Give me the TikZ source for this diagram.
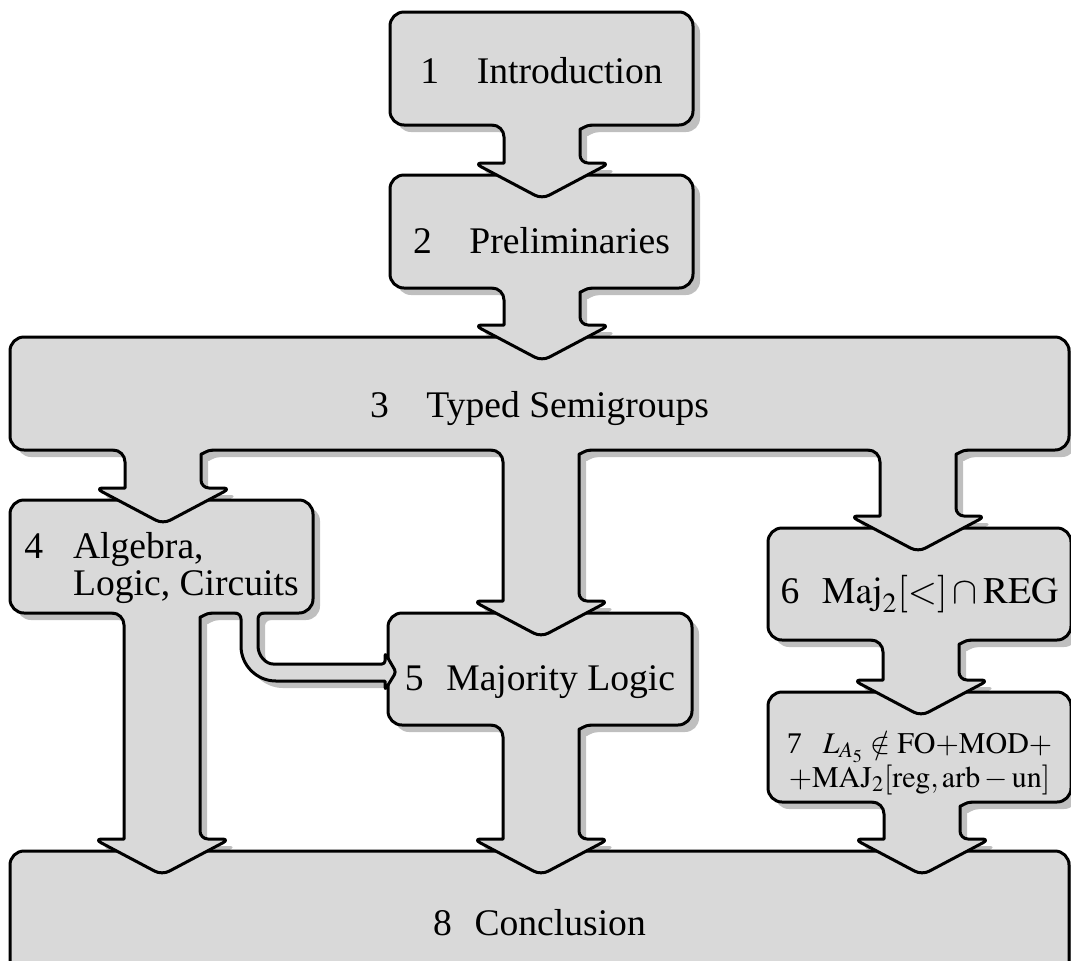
\documentclass[tikz,border=0pt]{standalone}
\usepackage{mathptmx}
\usepackage{fontspec}
\setmainfont{Liberation Serif}
\usetikzlibrary{calc,positioning}
\pgfdeclarelayer{shadow}
\pgfsetlayers{shadow,main}
\definecolor{boxgray}{HTML}{D9D9D9}
\definecolor{shadowgray}{HTML}{BFBFBF}
\tikzset{
  sectionbox/.style={
    draw,
    line width=1.5pt,
    fill=boxgray,
    rounded corners=7pt,
    minimum width=151.5pt,
    minimum height=56.5pt,
    inner sep=0pt,
    outer sep=0pt,
    text depth=0pt
  },
  wide sectionbox/.style={
    sectionbox,
    minimum width=529.5pt
  },
  fat arrow/.style={
    draw,
    fill=boxgray,
    line width=1.5pt,
    line join=round
  },
  box shadow/.style={
    fill=shadowgray,
    rounded corners=7pt
  }
}
\newcommand\fatarrowpath{($(s)+(-50,0)$) arc[start angle=270,end angle=360,radius=12]
  -- ($(t)+(-38,-12)$) [rounded corners=4pt]
  -- ($(t)+(-68,-12)$) -- ($(t)+(0,24)$) -- ($(t)+(68,-12)$)
  -- ($(t)+(38,-12)$) -- ($(s)+(38,12)$) [sharp corners]
  arc[start angle=180,end angle=270,radius=12]}
\newcommand\fatarrow[3]{%
  \coordinate (s) at (#3,0 |- #1.south);
  \coordinate (t) at (#3,0 |- #2.north);
  \begin{pgfonlayer}{shadow}
    \begin{scope}[transform canvas={xshift=3.5pt,yshift=-3.5pt}]
      \fill[shadowgray] \fatarrowpath;
    \end{scope}
  \end{pgfonlayer}
  \fill[boxgray] ($(s)+(-50,-2)$) rectangle ($(s)+(50,0)$);
  \path[fat arrow] \fatarrowpath;
}
\newcommand\bentarrowpath{($(c4)+(-14,0)$) arc[start angle=270,end angle=360,radius=6]
  -- ($(c4 |- c5)+(-8,-26)$) arc[start angle=180,end angle=90,radius=35]
  -- ($(c5)+(-3,9)$) [rounded corners=1.5pt]
  -- ($(c5)+(-3,18)$) -- ($(c5)+(8,0)$) -- ($(c5)+(-3,-19)$)
  -- ($(c5)+(-3,-8)$) -- ($(c4 |- c5)+(27,-8)$) [sharp corners]
  arc[start angle=90,end angle=180,radius=18]
  -- ($(c4)+(9,6)$) arc[start angle=180,end angle=270,radius=6]}

\begin{document}
\begin{tikzpicture}[x=0.5pt,y=-0.5pt,font=\fontsize{18.8}{18.5}\selectfont]
  \useasboundingbox (0,0) rectangle (1071,960);
  \node[sectionbox,text height=14.5pt]      (sec_1) at (541.5,68.5)  {1\quad Introduction};
  \node[sectionbox,text height=21.5pt]      (sec_2) at (541.5,231.5) {2\quad Preliminaries};
  \node[wide sectionbox,text height=23.5pt] (sec_3) at (539.5,393.5) {3\quad Typed Semigroups};
  \node[sectionbox,text height=15pt,text depth=13.5pt]
                         (sec_4) at (161.5,556.5)
    {4\hspace{15pt}\begin{tabular}[t]{@{}l@{}}Algebra,\\Logic, Circuits\end{tabular}};
  \node[sectionbox,minimum width=152pt,minimum height=56pt,text height=21pt]
                         (sec_5) at (540,669)     {5\hspace{0.6em}Majority Logic};
  \node[sectionbox,minimum height=56pt,text height=19pt]
                         (sec_6) at (919.5,584)   {6\hspace{0.6em}$\mathrm{Maj}_2[<]\cap\mathrm{REG}$};
  \node[sectionbox,minimum height=55pt,text height=15pt,text depth=9pt,
        font=\fontsize{15}{17}\selectfont]
                         (sec_7) at (919.5,747)
    {\begin{tabular}[t]{@{}c@{}}7\hspace{0.7em}$L_{A_5}\notin\mathrm{FO}{+}\mathrm{MOD}{+}$\\
     $+\mathrm{MAJ}_2[\mathrm{reg},\mathrm{arb}-\mathrm{un}]$\end{tabular}};
  \node[wide sectionbox,minimum height=71pt,text height=13pt]
                         (sec_8) at (539.5,922)   {8\hspace{0.6em}Conclusion};

  \begin{pgfonlayer}{shadow}
    \foreach \n in {sec_1,sec_2,sec_3,sec_4,sec_5,sec_6,sec_7,sec_8}
      \fill[box shadow] ([shift={(7,7)}]\n.north west) rectangle ([shift={(7,7)}]\n.south east);
  \end{pgfonlayer}

  \fatarrow{sec_1}{sec_2}{542}
  \fatarrow{sec_2}{sec_3}{542}
  \fatarrow{sec_3}{sec_4}{163}
  \fatarrow{sec_3}{sec_5}{541}
  \fatarrow{sec_3}{sec_6}{918}
  \fatarrow{sec_6}{sec_7}{921}
  \fatarrow{sec_4}{sec_8}{162}
  \fatarrow{sec_5}{sec_8}{541}
  \fatarrow{sec_7}{sec_8}{922}

  \coordinate (c4) at (249,0 |- sec_4.south);
  \coordinate (c5) at (sec_5.west |- 0,672);
  \begin{pgfonlayer}{shadow}
    \begin{scope}[transform canvas={xshift=3.5pt,yshift=-3.5pt}]
      \fill[shadowgray] \bentarrowpath;
    \end{scope}
  \end{pgfonlayer}
  \fill[boxgray] ($(c4)+(-14,-2)$) rectangle ($(c4)+(15,0)$);
  \path[fat arrow] \bentarrowpath;
\end{tikzpicture}
\end{document}
